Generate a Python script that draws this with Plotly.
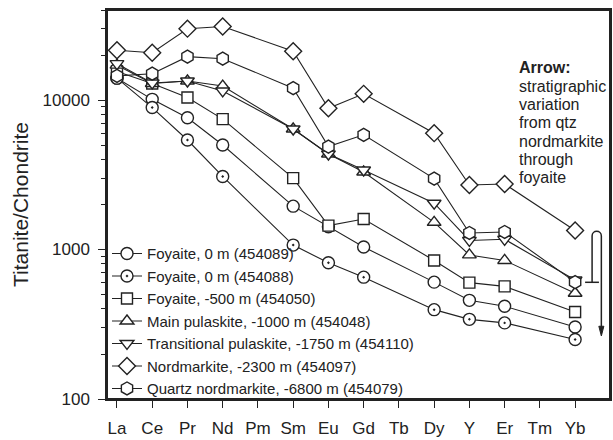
import plotly.graph_objects as go

elements = ["La", "Ce", "Pr", "Nd", "Pm", "Sm", "Eu", "Gd", "Tb", "Dy", "Y", "Er", "Tm", "Yb"]

foyaite_0_089 = [14000, 10100, 7600, 5000, None, 1950, 1420, 1040, None, 605, 457, 417, None, 303]
foyaite_0_088 = [14000, 8900, 5400, 3080, None, 1070, 815, 653, None, 396, 341, 323, None, 250]
foyaite_500 = [15500, 12900, 10400, 7450, None, 3000, 1445, 1600, None, 845, 600, 567, None, 382]
main_pulaskite = [17100, 12900, 13400, 12400, None, 6400, 4350, 3300, None, 1520, 920, 845, None, 510]
trans_pulaskite = [17500, 13000, 13400, 11500, None, 6400, 4350, 3400, None, 2040, 1150, 1170, None, 625]
nordmarkite = [21500, 20700, 30000, 31000, None, 21200, 8800, 11000, None, 6000, 2700, 2740, None, 1340]
qtz_nordmarkite = [14500, 15000, 19500, 18900, None, 12000, 4880, 5850, None, 2980, 1290, 1310, None, 605]

series_names = [
    "Foyaite, 0 m (454089)",
    "Foyaite, 0 m (454088)",
    "Foyaite, -500 m (454050)",
    "Main pulaskite, -1000 m (454048)",
    "Transitional pulaskite, -1750 m (454110)",
    "Nordmarkite, -2300 m (454097)",
    "Quartz nordmarkite, -6800 m (454079)",
]
series_values = [foyaite_0_089, foyaite_0_088, foyaite_500, main_pulaskite,
                 trans_pulaskite, nordmarkite, qtz_nordmarkite]
symbols = ["circle", "circle-dot", "square", "triangle-up", "triangle-down", "diamond", "hexagon"]
sizes = [12, 12, 11, 12, 12, 13, 13]

y_tickvals = [100, 1000, 10000]
y_ticktext = ["100", "1000", "10000"]

annotation_lines = ["<b>Arrow:</b>", "stratigraphic", "variation", "from qtz",
                    "nordmarkite", "through", "foyaite"]

INK = "#222222"
FONT = "Liberation Sans, Arial, sans-serif"

fig = go.Figure()
for name, vals, sym, sz in zip(series_names, series_values, symbols, sizes):
    fig.add_trace(go.Scatter(
        x=elements, y=vals, name=name, mode="lines+markers",
        connectgaps=True,
        line=dict(color=INK, width=1.1),
        marker=dict(symbol=sym, size=sz, color="white",
                    line=dict(color=INK, width=1.4)),
    ))

fig.update_layout(
    width=613, height=440,
    margin=dict(l=107, r=1, t=10, b=41),
    paper_bgcolor="white", plot_bgcolor="white",
    font=dict(family=FONT, color=INK),
    showlegend=True,
    legend=dict(x=0.0, y=-0.016, xanchor="left", yanchor="bottom",
                bgcolor="rgba(0,0,0,0)", font=dict(size=15, color=INK),
                borderwidth=0, tracegroupgap=0),
)

fig.update_xaxes(
    type="category", categoryorder="array", categoryarray=elements,
    range=[-0.283, 13.99],
    showline=True, linecolor=INK, linewidth=1.5, mirror=True,
    ticks="outside", ticklen=7, tickwidth=1.2, tickcolor=INK,
    tickfont=dict(size=17, color=INK), ticklabelstandoff=6,
    showgrid=False, zeroline=False,
)

fig.update_yaxes(
    type="log", range=[2, 4.60206],
    showline=True, linecolor=INK, linewidth=1.5, mirror=True,
    ticks="outside", ticklen=7, tickwidth=1.2, tickcolor=INK,
    tickvals=y_tickvals, ticktext=y_ticktext,
    minor=dict(ticks="outside", ticklen=4, tickwidth=1.2, tickcolor=INK,
               dtick="D1", showgrid=False),
    tickfont=dict(size=17, color=INK), ticklabelstandoff=5,
    showgrid=False, zeroline=False,
    title=dict(text="Titanite/Chondrite", font=dict(size=21, color=INK), standoff=8),
)

# plot frame
fig.add_shape(type="rect", xref="paper", yref="paper", x0=0, x1=1, y0=0, y1=1,
              line=dict(color=INK, width=2), fillcolor="rgba(0,0,0,0)", layer="above")

# annotation text lines
top_y = 0.851
step = 18.3 / 389.0
for i, line in enumerate(annotation_lines):
    fig.add_annotation(
        text=line, xref="paper", yref="paper",
        x=0.816, y=top_y - i * step, xanchor="left", yanchor="middle",
        showarrow=False, font=dict(size=16, color=INK), align="left",
    )

# stratigraphic arrow (paper coordinates)
fig.add_shape(type="line", xref="paper", yref="paper",
              x0=0.9505, x1=0.978, y0=0.300, y1=0.300,
              line=dict(color=INK, width=1.5))
fig.add_shape(type="path", xref="paper", yref="paper",
              path="M 0.9644,0.300 L 0.9644,0.419 C 0.9644,0.435 0.9828,0.435 0.9828,0.419 L 0.9828,0.180",
              line=dict(color=INK, width=1.5))
fig.add_shape(type="path", xref="paper", yref="paper",
              path="M 0.9778,0.187 L 0.9878,0.187 L 0.9828,0.162 Z",
              fillcolor=INK, line=dict(color=INK, width=1))

fig.write_html("out.html",
               config={"displayModeBar": False},
               post_script="document.body.style.margin='0';document.body.style.overflow='hidden';")
